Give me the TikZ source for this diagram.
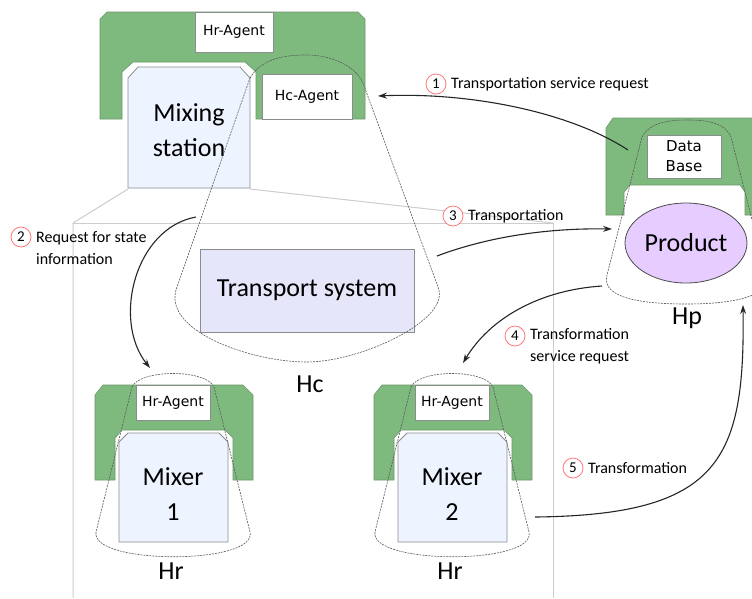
\documentclass[tikz,border=0pt]{standalone}
\usepackage{fontspec}
\setmainfont{Carlito}
\newfontfamily\agentfont{DejaVu Sans}
\usetikzlibrary{arrows.meta,shapes.geometric}
\definecolor{holongreen}{RGB}{126,186,126}
\definecolor{greenedge}{RGB}{110,150,110}
\definecolor{mixblue}{RGB}{238,244,255}
\definecolor{tslav}{RGB}{230,230,250}
\definecolor{prodpurple}{RGB}{230,204,255}
\definecolor{labred}{RGB}{255,120,120}
\definecolor{guide}{RGB}{205,205,205}
\definecolor{boxedge}{RGB}{140,140,140}
\tikzset{
  greenholon/.style={fill=holongreen,draw=greenedge,line width=0.6pt},
  resbox/.style={fill=mixblue,draw=boxedge,line width=0.8pt},
  agentbox/.style={draw=boxedge,fill=white,line width=0.8pt,inner sep=0pt,font=\agentfont\fontsize{14}{17}\selectfont},
  holonline/.style={draw=black!65,line width=0.6pt,dash pattern=on 2pt off 1pt},
  bigtext/.style={font=\fontsize{26}{35}\selectfont,align=center,inner sep=0pt},
  guideline/.style={draw=guide,line width=1pt},
  flow/.style={draw=black!85,line width=1.1pt,-{Stealth[length=9pt,width=6pt]}},
  stepcircle/.style={circle,draw=labred,fill=white,line width=0.8pt,minimum size=20pt,inner sep=0pt,font=\fontsize{15}{15}\selectfont},
  steptext/.style={anchor=west,inner sep=0pt,align=left,font=\fontsize{16}{22}\selectfont}
}
\begin{document}
\begin{tikzpicture}[x=1pt,y=-1pt]
\clip (0,0) rectangle (752,598);
\fill[white] (0,0) rectangle (752,598);

% perspective guide lines
\coordinate (gA) at (128,189);
\coordinate (gB) at (250,189);
\coordinate (gL) at (73,223);
\coordinate (gR) at (553,223);
\coordinate (gLb) at (73,598);
\coordinate (gRb) at (553,598);
\draw[guideline] (gA) -- (gL) -- (gLb);
\draw[guideline] (gL) -- (gR) -- (gRb);
\draw[guideline] (gB) -- (gR);

% ---------- Mixing station holon ----------
\draw[greenholon] (100,19) -- (107,12) -- (358,12) -- (365,19) -- (365,119) -- (256,119) -- (256,72) -- (245,62) -- (133,62) -- (122,72) -- (122,119) -- (100,119) -- cycle;
\node[agentbox,minimum width=78pt,minimum height=40pt] (hrtop) at (234,32) {Hr-Agent};
\draw[resbox] (128,78) -- (138,67) -- (240,67) -- (250,78) -- (250,188) -- (128,188) -- cycle;
\node[bigtext] (mixst) at (189,130) {Mixing\\station};
\node[agentbox,minimum width=90pt,minimum height=45pt] (hcag) at (307,96.5) {Hc-Agent};

% transport system
\node[draw=boxedge,fill=tslav,line width=0.8pt,minimum width=214pt,minimum height=83pt,inner sep=0pt,font=\fontsize{26}{30}\selectfont] (ts) at (307,290.5) {Transport system};

% Hc holon outline
\draw[holonline] (250,78) .. controls (262,58) and (285,55) .. (307,55) .. controls (330,55) and (355,65) .. (363,83) -- (438,287) .. controls (452,320) and (360,362) .. (307,362) .. controls (250,362) and (160,330) .. (177,287) -- cycle;
\node[bigtext] (hc) at (310,384) {Hc};

% ---------- Product holon ----------
\draw[greenholon] (606,128) -- (613,118) -- (770,118) -- (770,215) -- (745,215) -- (745,192) -- (740,185) -- (630,185) -- (624,192) -- (624,215) -- (606,215) -- cycle;
\node[agentbox,minimum width=74pt,minimum height=43pt,align=center,font=\agentfont\fontsize{15}{20}\selectfont] (db) at (684,156.5) {Data\\Base};
\node[ellipse,draw=black!70,fill=prodpurple,line width=0.8pt,minimum width=122pt,minimum height=80pt,inner sep=0pt,font=\fontsize{26}{30}\selectfont] (prod) at (686,243) {Product};
\draw[holonline] (642,137) .. controls (650,122) and (670,120) .. (687,120) .. controls (705,120) and (725,122) .. (731,137) -- (766,275) .. controls (772,300) and (720,304) .. (686,304) .. controls (650,304) and (600,300) .. (607,275) -- cycle;
\node[bigtext] (hp) at (687,318) {Hp};

% ---------- Mixer holons ----------
\foreach \dx/\n in {0/1,279/2}{
  \begin{scope}[shift={(\dx,0)}]
    \draw[greenholon] (95,395) -- (103,385) -- (243,385) -- (253,395) -- (253,480) -- (233,480) -- (233,438) -- (225,430) -- (122,430) -- (115,438) -- (115,480) -- (95,480) -- cycle;
    \node[agentbox,minimum width=74pt,minimum height=35pt] (hrag\n) at (173,402.5) {Hr-Agent};
    \draw[resbox] (119,442) -- (128,433) -- (219,433) -- (228,442) -- (228,542) -- (119,542) -- cycle;
    \node[bigtext] (mixer\n) at (173,494) {Mixer\\\n};
    \draw[holonline] (132,387) .. controls (140,369) and (206,369) .. (214,387) -- (250,532) .. controls (258,565) and (90,565) .. (96,532) -- cycle;
    \node[bigtext] (hr\n) at (171,571) {Hr};
  \end{scope}
}

% ---------- interactions ----------
\coordinate (a1s) at (628,150);
\coordinate (a1e) at (378,96);
\draw[flow] (a1s) .. controls (570,112) and (470,92) .. (a1e);
\node[stepcircle] (c1) at (436,84) {1};
\node[steptext] (t1) at (451,84) {Transportation service request};

\coordinate (a2s) at (196,217);
\coordinate (a2e) at (150,368);
\draw[flow] (a2s) .. controls (135,228) and (112,320) .. (a2e);
\node[stepcircle] (c2) at (21,237) {2};
\node[steptext] (t2) at (36,248) {Request for state\\information};

\coordinate (a3s) at (437,256);
\coordinate (a3e) at (612,229);
\draw[flow] (a3s) .. controls (490,236) and (550,228) .. (a3e);
\node[stepcircle] (c3) at (453,216) {3};
\node[steptext] (t3) at (468,216) {Transportation};

\coordinate (a4s) at (602,286);
\coordinate (a4e) at (463,363);
\draw[flow] (a4s) .. controls (540,290) and (490,318) .. (a4e);
\node[stepcircle] (c4) at (515,336) {4};
\node[steptext] (t4) at (530,346.5) {Transformation\\service request};

\coordinate (a5s) at (535,517);
\coordinate (a5e) at (743,305);
\draw[flow] (a5s) .. controls (720,515) and (745,460) .. (a5e);
\node[stepcircle] (c5) at (573,468) {5};
\node[steptext] (t5) at (588,468) {Transformation};
\end{tikzpicture}
\end{document}
